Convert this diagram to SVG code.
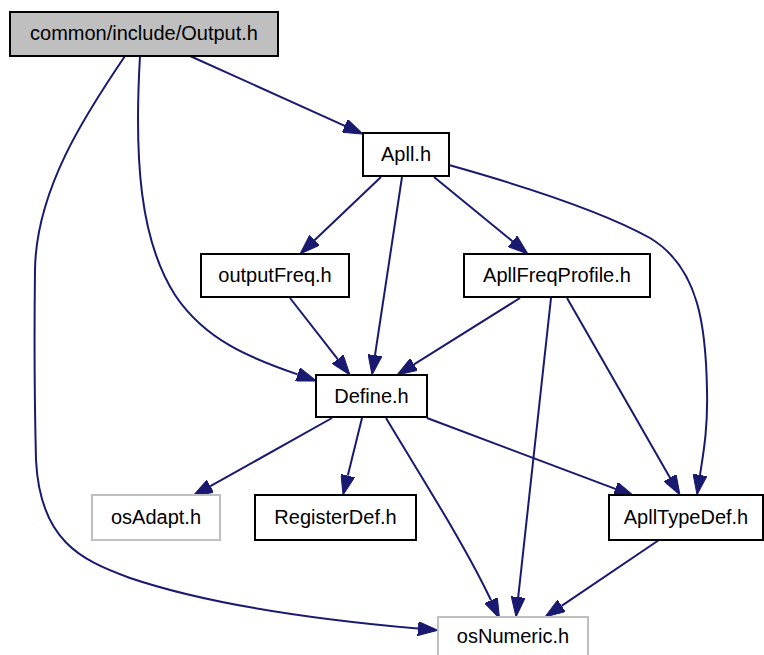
<svg xmlns="http://www.w3.org/2000/svg" width="764" height="655" viewBox="0 0 764 655">
  <style>
    .node rect { fill: #ffffff; stroke: #000000; stroke-width: 2; }
    .node.root rect { fill: #bfbfbf; }
    .node.ext rect { stroke: #bfbfbf; }
    .node text { font-family: "Liberation Sans", Arial, Helvetica, sans-serif; font-size: 20px; fill: #000000; text-anchor: middle; }
    .edges path { fill: none; stroke: #191970; stroke-width: 2; marker-end: url(#arrow); }
  </style>
  <defs>
    <marker id="arrow" viewBox="0 0 20 14" refX="0" refY="7" markerWidth="20" markerHeight="14" markerUnits="userSpaceOnUse" orient="auto">
      <path d="M0,0 L20,7 L0,14 z" fill="#191970" stroke="#191970" stroke-width="1"/>
    </marker>
  </defs>
  <rect width="764" height="655" fill="#ffffff"/>

  <g class="edges">
    <!-- Output.h -> Apll.h -->
    <path d="M190,56 L344.8,125.8"/>
    <!-- Output.h -> Define.h -->
    <path d="M140,56 C134,160 140,240 175,295 C205,340 250,358 297.6,374.4"/>
    <!-- Output.h -> osNumeric.h -->
    <path d="M125,56 C85,115 36,190 35,270 C34,350 35,420 36,460 C40,540 80,560 130,578 C210,605 320,620 418,628.6"/>
    <!-- Apll.h -> outputFreq.h -->
    <path d="M381,177 L314.5,240.2"/>
    <!-- Apll.h -> Define.h -->
    <path d="M402,177 L375,355.2"/>
    <!-- Apll.h -> ApllFreqProfile.h -->
    <path d="M434,177 L512.5,241.3"/>
    <!-- Apll.h -> ApllTypeDef.h -->
    <path d="M449,165 C520,185 600,210 650,238 C700,268 706,330 707,390 C708,430 703,455 700,475"/>
    <!-- outputFreq.h -> Define.h -->
    <path d="M290,298 L337.7,359.2"/>
    <!-- ApllFreqProfile.h -> Define.h -->
    <path d="M520,298 L414,364.4"/>
    <!-- ApllFreqProfile.h -> osNumeric.h -->
    <path d="M551,298 L518.2,597.1"/>
    <!-- ApllFreqProfile.h -> ApllTypeDef.h -->
    <path d="M567,298 L670,477.7"/>
    <!-- Define.h -> osAdapt.h -->
    <path d="M332,418 L210.4,486.2"/>
    <!-- Define.h -> RegisterDef.h -->
    <path d="M362,418 L347.8,475.6"/>
    <!-- Define.h -> osNumeric.h -->
    <path d="M386,418 C420,475 465,545 491,600.3"/>
    <!-- Define.h -> ApllTypeDef.h -->
    <path d="M427,418 L615.3,488.9"/>
    <!-- ApllTypeDef.h -> osNumeric.h -->
    <path d="M659,540 L561.6,605.8"/>
  </g>

  <g id="node-output" class="node root">
    <rect x="10" y="12" width="268" height="44"/>
    <text x="144" y="40">common/include/Output.h</text>
  </g>
  <g id="node-apll" class="node">
    <rect x="363" y="133" width="86" height="43"/>
    <text x="406" y="161">Apll.h</text>
  </g>
  <g id="node-outputfreq" class="node">
    <rect x="201" y="254" width="148" height="43"/>
    <text x="275" y="282">outputFreq.h</text>
  </g>
  <g id="node-apllfreqprofile" class="node">
    <rect x="464" y="254" width="186" height="43"/>
    <text x="557" y="282">ApllFreqProfile.h</text>
  </g>
  <g id="node-define" class="node">
    <rect x="316" y="375" width="111" height="42"/>
    <text x="371.5" y="403">Define.h</text>
  </g>
  <g id="node-osadapt" class="node ext">
    <rect x="92" y="495" width="128" height="45"/>
    <text x="156" y="524">osAdapt.h</text>
  </g>
  <g id="node-registerdef" class="node">
    <rect x="255" y="495" width="161" height="45"/>
    <text x="335.5" y="524">RegisterDef.h</text>
  </g>
  <g id="node-aplltypedef" class="node">
    <rect x="609" y="495" width="154" height="45"/>
    <text x="686" y="524">ApllTypeDef.h</text>
  </g>
  <g id="node-osnumeric" class="node ext">
    <rect x="438" y="617" width="150" height="45"/>
    <text x="513" y="643">osNumeric.h</text>
  </g>
</svg>
